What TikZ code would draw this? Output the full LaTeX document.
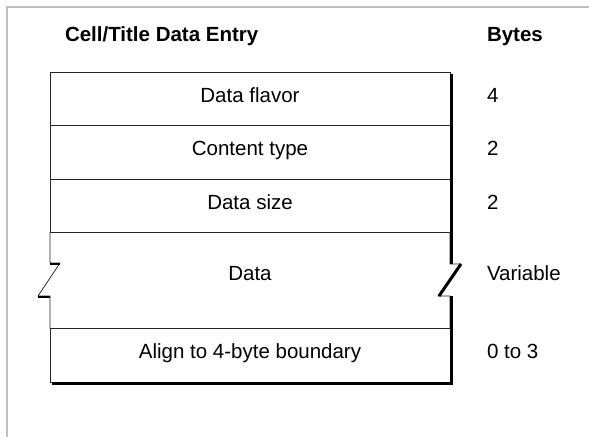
\documentclass[tikz,border=0pt]{standalone}
\usepackage{fontspec}
\setmainfont{Liberation Sans}
\usetikzlibrary{positioning}

\begin{document}
\begin{tikzpicture}[x=1pt, y=1pt,
  every node/.style={font=\fontsize{20.5}{24}\selectfont, text height=0.72em,
    text depth=0pt, inner sep=0pt, outer sep=0pt},
  title/.style={font=\fontsize{20.5}{24}\selectfont\bfseries, anchor=west},
  field/.style={minimum width=400pt, minimum height=53.5pt},
  boxed/.style={field, draw=black!85, line width=0.8pt},
  shade/.style={line width=3pt, line cap=butt},
  lip/.style={line width=2pt}]
    \useasboundingbox (0,0) rectangle (589,437);
    % outer frame
    \draw[black!25, line width=1.5pt] (589,430) -- (7,430) -- (7,0);

    \node[title] (h) at (65,399) {Cell/Title Data Entry};
    \node[title] (hb) at (487,399) {Bytes};

    \node[boxed] (a) at (250,338.25) {Data flavor};
    \node[boxed, below=0pt of a] (b) {Content type};
    \node[boxed, below=0pt of b] (c) {Data size};
    \node[field, minimum height=96pt, below=0pt of c] (d) {};
    \node[yshift=4pt] (dt) at (d) {Data};
    \node[boxed, below=0pt of d] (e) {Align to 4-byte boundary};

    \node[right=37pt of a] (na) {4};
    \node[right=37pt of b] (nb) {2};
    \node[right=37pt of c] (nc) {2};
    \node[right=37pt of d, yshift=4pt] (nd) {Variable};
    \node[right=37pt of e] (ne) {0 to 3};

    % broken sides of the data field
    \draw[black!85, line width=0.8pt] (d.north west) -- ++(0,-30.5) -- ++(10,0)
      -- ++(-22,-33) -- ++(12,0) -- (d.south west);
    \draw[black!85, line width=0.8pt] (d.north east) -- ++(0,-31.5) -- ++(10,0)
      -- ++(-22,-32) -- ++(12,0) -- (d.south east);
    \draw[lip] ([shift={(0,-31.5)}]d.north west) -- ++(10,0);
    \draw[lip] ([shift={(-12,-64.5)}]d.north west) -- ++(12,0);

    % drop shadow
    \draw[shade] ([shift={(1,-2)}]a.north east) -- ([shift={(1,-31.5)}]d.north east);
    \draw[shade] ([shift={(11,-31.5)}]d.north east) -- ([shift={(-11,-63.5)}]d.north east);
    \draw[shade] ([shift={(1,-63.5)}]d.north east) -- ([shift={(1,-1.5)}]e.south east)
      -- ([shift={(2,-1.5)}]e.south west);
\end{tikzpicture}
\end{document}
